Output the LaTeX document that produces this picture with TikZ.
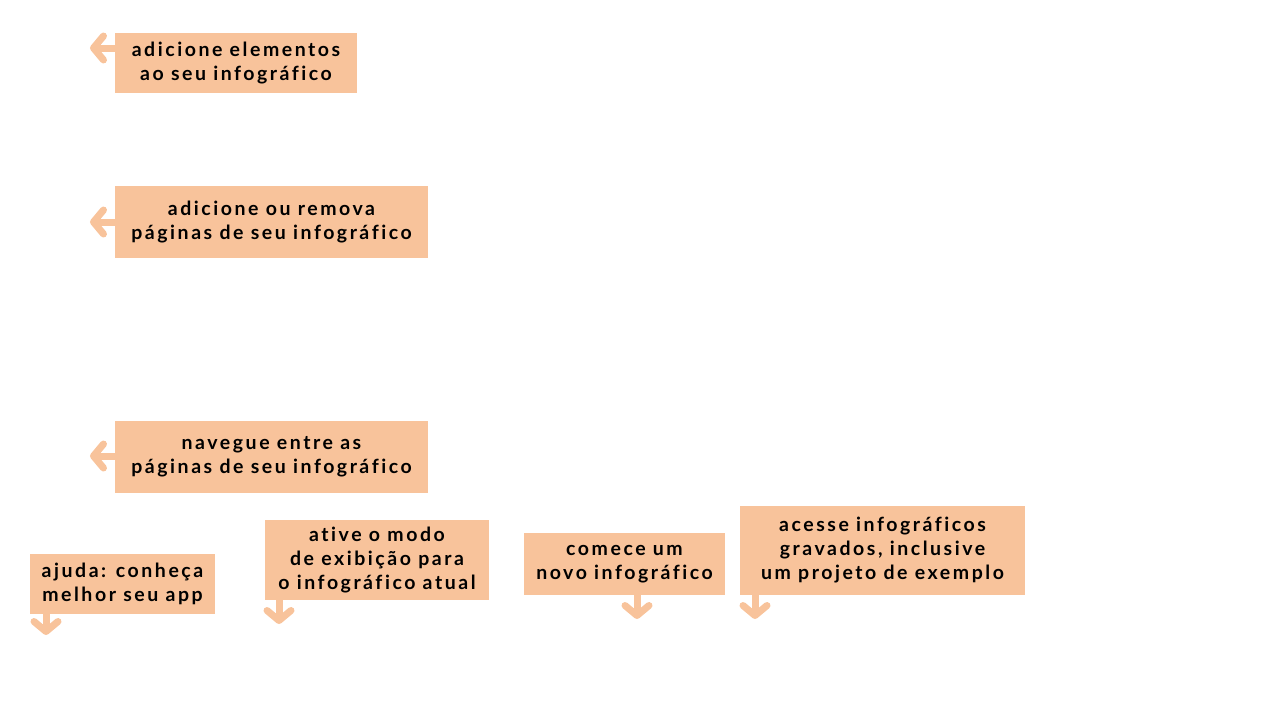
\documentclass[tikz,border=0pt]{standalone}
\usepackage{fontspec}
\setmainfont{Lato}[LetterSpace=13,UprightFont=* Bold,Ligatures=NoCommon]
\usetikzlibrary{arrows.meta}
\definecolor{peach}{RGB}{248,195,155}
\begin{document}
\begin{tikzpicture}[x=1pt,y=-1pt,
  box/.style={fill=peach,inner sep=0pt,align=center,text=black,
    font=\fontsize{19.5}{24}\selectfont},
  pointer/.style={draw=peach,line width=7pt,line cap=round,line join=round,
    -{Straight Barb[length=10pt,width=24pt,line cap=round,line join=round]}}]
\useasboundingbox (0,0) rectangle (1280,720);
\node[box,minimum width=242,minimum height=60] (b1) at (236,63) {adicione elementos\\ao seu infográfico};
\node[box,minimum width=313,minimum height=72] (b2) at (271.5,222) {adicione ou remova\\páginas de seu infográfico};
\node[box,minimum width=313,minimum height=72] (b3) at (271.5,457) {navegue entre as\\páginas de seu infográfico};
\node[box,minimum width=185,minimum height=60] (b4) at (122.5,584) {ajuda: conheça\\melhor seu app};
\node[box,minimum width=224,minimum height=80] (b5) at (377,560) {ative o modo\\de exibição para\\o infográfico atual};
\node[box,minimum width=201,minimum height=62] (b6) at (624.5,564) {comece um\\novo infográfico};
\node[box,minimum width=285,minimum height=89] (b7) at (882.5,550.5) {acesse infográficos\\gravados, inclusive\\um projeto de exemplo};
\coordinate (t1) at (90,48);
\coordinate (t2) at (90,222);
\coordinate (t3) at (90,456);
\coordinate (t4) at (46,635);
\coordinate (t5) at (279,624);
\coordinate (t6) at (637,619);
\coordinate (t7) at (755,619);
\draw[pointer] (t1 -| b1.west) -- (t1);
\draw[pointer] (t2 -| b2.west) -- (t2);
\draw[pointer] (t3 -| b3.west) -- (t3);
\draw[pointer] (t4 |- b4.south) -- (t4);
\draw[pointer] (t5 |- b5.south) -- (t5);
\draw[pointer] (t6 |- b6.south) -- (t6);
\draw[pointer] (t7 |- b7.south) -- (t7);
\end{tikzpicture}
\end{document}
